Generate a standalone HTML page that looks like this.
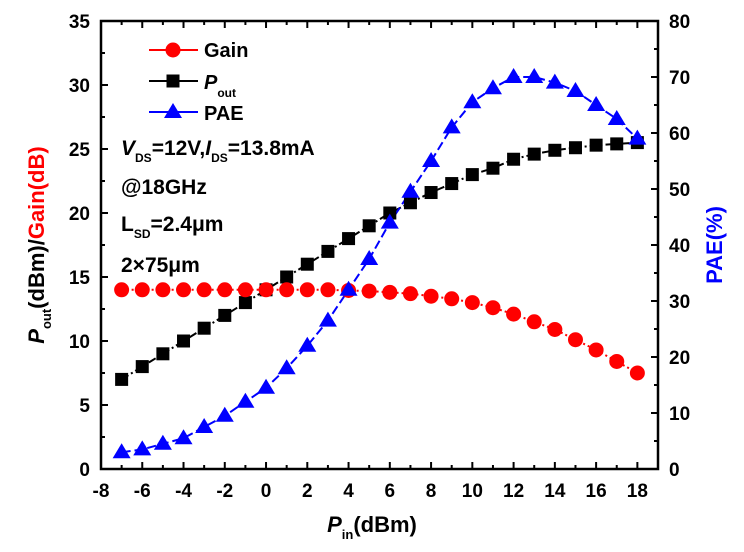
<!DOCTYPE html>
<html><head><meta charset="utf-8"><style>
body{margin:0;background:#fff}
svg{display:block;font-family:"Liberation Sans",Arial,sans-serif;font-weight:bold}
</style></head><body>
<svg id="s" width="744" height="552" viewBox="0 0 744 552" xmlns="http://www.w3.org/2000/svg"></svg>
<script>
const s=document.getElementById('s');
const L=101,R=658,T=21,B=469;
const X=v=>L+(v+8)*(R-L)/27, YL=v=>B-v*(B-T)/35, YR=v=>B-v*(B-T)/80;
let h='';
h+=`<rect x="${L}" y="${T}" width="${R-L}" height="${B-T}" fill="none" stroke="#000" stroke-width="2.5"/>`;
for(let v=-8;v<=18;v++){const x=X(v),len=v%2==0?7:4;
h+=`<line x1="${x}" y1="${B}" x2="${x}" y2="${B-len}" stroke="#000" stroke-width="2"/><line x1="${x}" y1="${T}" x2="${x}" y2="${T+len}" stroke="#000" stroke-width="2"/>`;
if(v%2==0)h+=`<text x="${x}" y="${B+28}" font-size="19" text-anchor="middle">${v}</text>`;}
for(let v=0;v<=35;v+=2.5){const y=YL(v),len=v%5==0?7:4;
h+=`<line x1="${L}" y1="${y}" x2="${L+len}" y2="${y}" stroke="#000" stroke-width="2"/>`;
if(v%5==0)h+=`<text x="${L-11}" y="${y+7}" font-size="19" text-anchor="end">${v}</text>`;}
for(let v=0;v<=80;v+=5){const y=YR(v),len=v%10==0?7:4;
h+=`<line x1="${R}" y1="${y}" x2="${R-len}" y2="${y}" stroke="#000" stroke-width="2"/>`;
if(v%10==0)h+=`<text x="${R+11}" y="${y+7}" font-size="19">${v}</text>`;}
const xs=[];for(let v=-7;v<=18;v++)xs.push(v);
const pout=[7,8,9,10,11,12,13,14,15,16,17,18,19,20,20.8,21.6,22.3,23,23.5,24.2,24.6,24.9,25.1,25.3,25.4,25.5];
const gain=[14,14,14,14,14,14,14,14,14,14,14,13.95,13.9,13.8,13.7,13.5,13.3,13,12.6,12.1,11.5,10.9,10.1,9.3,8.4,7.5];
const pae=[3,3.5,4.5,5.5,7.5,9.5,12,14.5,18,22,26.5,32,37.5,44,49.5,55,61,65.5,68,70,70,69,67.5,65,62.5,59];
const line=(ys,f,c,d)=>`<polyline fill="none" stroke="${c}" stroke-width="2" stroke-dasharray="${d}" points="${xs.map((v,i)=>X(v)+','+f(ys[i])).join(' ')}"/>`;
h+=line(pout,YL,'#000','8,3,2,3');
h+=line(gain,YL,'#f00','2,3');
h+=line(pae,YR,'#00f','9,4');
const sq=(x,y)=>`<rect x="${x-6.5}" y="${y-6.5}" width="13" height="13" fill="#000"/>`;
const ci=(x,y)=>`<circle cx="${x}" cy="${y}" r="7.5" fill="#f00"/>`;
const tr=(x,y)=>`<polygon points="${x},${y-9} ${x-9},${y+6} ${x+9},${y+6}" fill="#00f"/>`;
xs.forEach((v,i)=>{h+=sq(X(v),YL(pout[i]));h+=ci(X(v),YL(gain[i]));h+=tr(X(v),YR(pae[i]));});
h+=`<line x1="149" y1="50" x2="198" y2="50" stroke="#f00" stroke-width="2"/>`+ci(173,50)+`<text x="204" y="57" font-size="20">Gain</text>`;
h+=`<line x1="149" y1="81" x2="198" y2="81" stroke="#000" stroke-width="2"/>`+sq(173,81)+`<text x="204" y="89" font-size="20"><tspan font-style="italic">P</tspan><tspan font-size="12" dy="8">out</tspan></text>`;
h+=`<line x1="149" y1="112" x2="198" y2="112" stroke="#00f" stroke-width="2"/>`+tr(173,112)+`<text x="204" y="120" font-size="20">PAE</text>`;
h+=`<text x="121" y="155" font-size="21"><tspan font-style="italic">V</tspan><tspan font-size="12" dy="7">DS</tspan><tspan dy="-7">=12V,</tspan><tspan font-style="italic">I</tspan><tspan font-size="12" dy="7">DS</tspan><tspan dy="-7">=13.8mA</tspan></text>`;
h+=`<text x="121" y="194" font-size="21">@18GHz</text>`;
h+=`<text x="121" y="231" font-size="21">L<tspan font-size="12" dy="7">SD</tspan><tspan dy="-7">=2.4μm</tspan></text>`;
h+=`<text x="121" y="272" font-size="21">2×75μm</text>`;
h+=`<text x="372" y="532" font-size="22" text-anchor="middle"><tspan font-style="italic">P</tspan><tspan font-size="13" dy="7">in</tspan><tspan dy="-7">(dBm)</tspan></text>`;
h+=`<text transform="translate(44,245) rotate(-90)" font-size="22" text-anchor="middle"><tspan font-style="italic">P</tspan><tspan font-size="13" dy="7">out</tspan><tspan dy="-7">(dBm)/</tspan><tspan fill="#f00">Gain(dB)</tspan></text>`;
h+=`<text transform="translate(722,245) rotate(-90)" font-size="22" text-anchor="middle" fill="#00f">PAE(%)</text>`;
s.innerHTML=h;
</script>
</body></html>
